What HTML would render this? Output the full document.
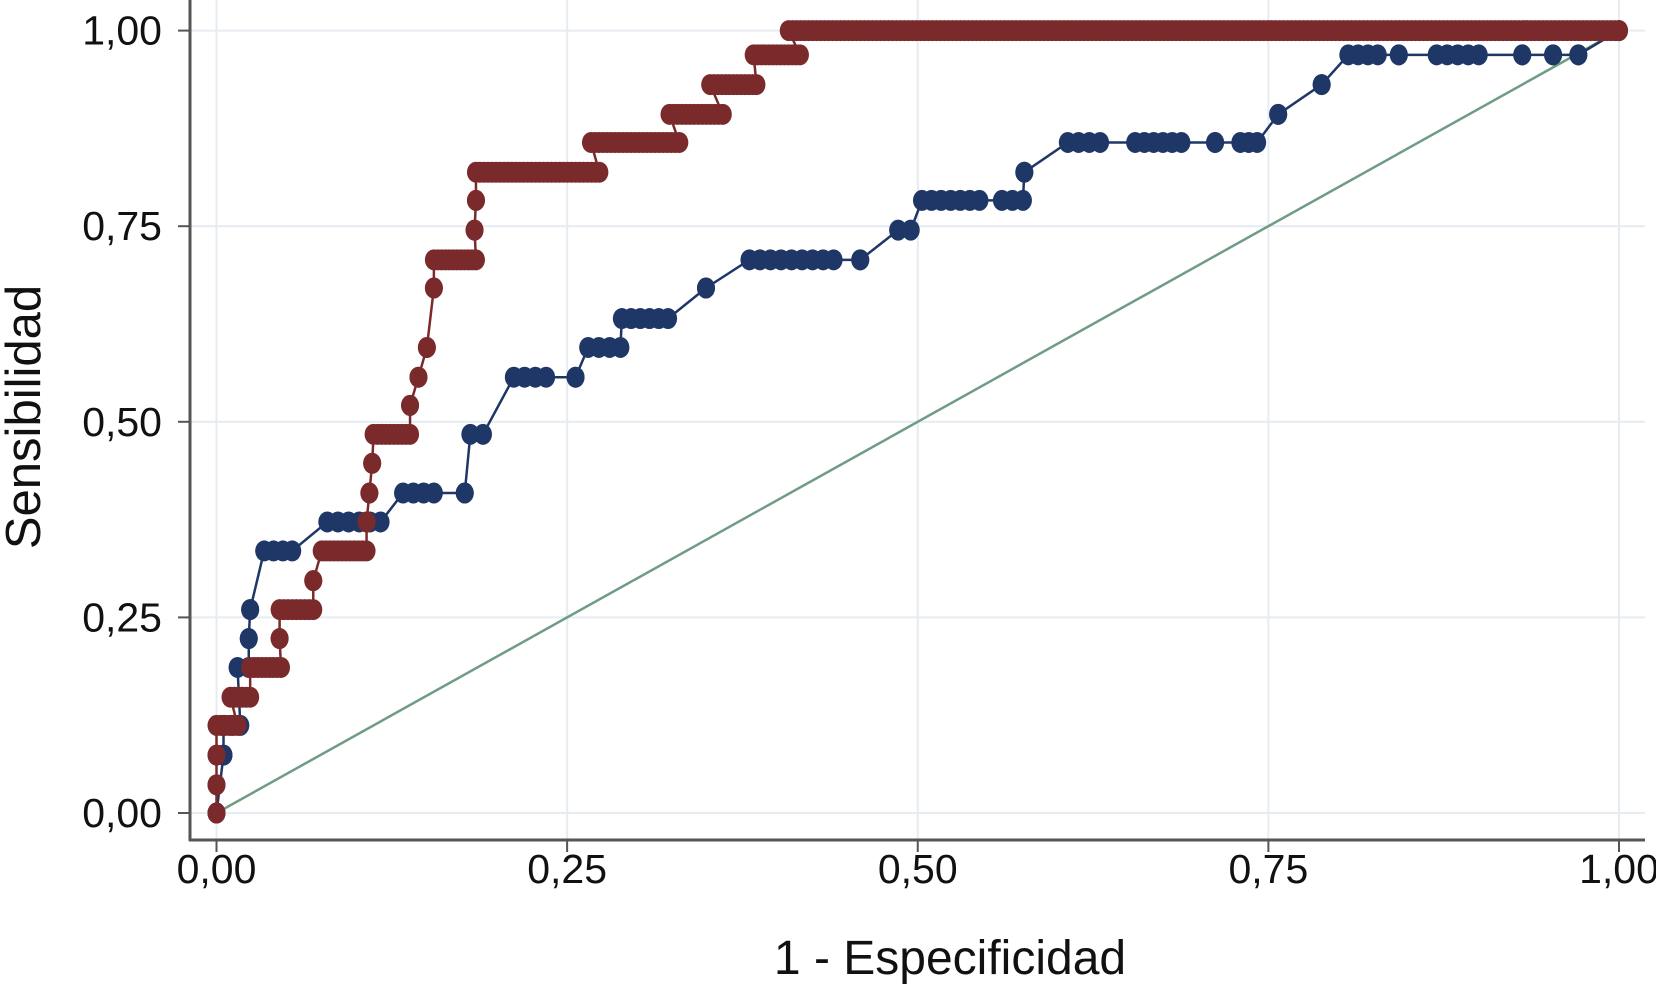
<!DOCTYPE html>
<html><head><meta charset="utf-8"><style>
html,body{margin:0;padding:0;background:#fff;}
svg{display:block;font-family:"Liberation Sans",sans-serif;}
</style></head><body>
<svg id="chart" width="1656" height="985" viewBox="0 0 1656 985" xmlns="http://www.w3.org/2000/svg">
<g id="grid"></g>
<g id="axes"></g>
<g id="series"></g>
<text x="950" y="974" font-size="48" text-anchor="middle" fill="#111">1 - Especificidad</text>
<text transform="translate(40,417) rotate(-90)" font-size="49" text-anchor="middle" fill="#111">Sensibilidad</text>
</svg>
<script>
const xTicks=[0,0.25,0.5,0.75,1];
const xTickLabels=["0,00","0,25","0,50","0,75","1,00"];
const yTicks=[0,0.25,0.5,0.75,1];
const yTickLabels=["0,00","0,25","0,50","0,75","1,00"];
// Red series: horizontal runs (x start, x end, y)
const redX0=[0,0,0,0,0.01,0.024,0.045,0.045,0.069,0.075,0.107,0.109,0.111,0.112,0.138,0.144,0.15,0.155,0.155,0.184,0.185,0.185,0.267,0.323,0.352,0.383,0.408];
const redX1=[0,0,0,0.015,0.024,0.046,0.045,0.069,0.069,0.107,0.107,0.109,0.111,0.138,0.138,0.144,0.15,0.155,0.185,0.184,0.185,0.273,0.33,0.361,0.385,0.416,1];
const redY=[0,0.036,0.074,0.112,0.148,0.186,0.223,0.26,0.297,0.335,0.372,0.409,0.447,0.484,0.521,0.557,0.595,0.671,0.707,0.745,0.783,0.819,0.857,0.893,0.931,0.969,1];
// Blue series
const blueX0=[0,0.005,0.005,0.015,0.023,0.024,0.034,0.079,0.133,0.177,0.181,0.212,0.256,0.265,0.289,0.349,0.38,0.459,0.486,0.503,0.56,0.576,0.607,0.655,0.712,0.73,0.757,0.788,0.807,0.843,0.87,0.931,0.953,0.971,1];
const blueX1=[0,0.005,0.017,0.023,0.023,0.024,0.054,0.117,0.155,0.177,0.19,0.235,0.256,0.288,0.322,0.349,0.44,0.459,0.495,0.544,0.575,0.576,0.63,0.688,0.712,0.742,0.757,0.788,0.828,0.843,0.9,0.931,0.953,0.971,1];
const blueY=[0,0.074,0.112,0.186,0.223,0.26,0.335,0.372,0.409,0.409,0.484,0.557,0.557,0.595,0.632,0.671,0.707,0.707,0.745,0.783,0.783,0.819,0.857,0.857,0.857,0.857,0.893,0.931,0.969,0.969,0.969,0.969,0.969,0.969,1];

const NS="http://www.w3.org/2000/svg";
const X0=216.5,X1=1619,Y0=813,Y1=30.6;
const sx=v=>X0+(X1-X0)*v;
const sy=v=>Y0-(Y0-Y1)*v;
function mk(tag,attrs,parent){const e=document.createElementNS(NS,tag);for(const k in attrs)e.setAttribute(k,attrs[k]);parent.appendChild(e);return e;}
const grid=document.getElementById('grid'),axes=document.getElementById('axes'),series=document.getElementById('series');
xTicks.forEach((t,i)=>{
  const l=mk('line',{x1:sx(t),x2:sx(t),y1:0,y2:840,stroke:'#e6ecf2','stroke-width':2},grid);
  
  
  const tk=mk('line',{x1:sx(t),x2:sx(t),y1:840,y2:852,stroke:'#555','stroke-width':2},axes);
  
  
  const tx=mk('text',{x:sx(t),y:883,'font-size':41,'text-anchor':'middle',fill:'#111'},axes);
  tx.textContent=xTickLabels[i];
  
  
});
yTicks.forEach((t,i)=>{
  const l=mk('line',{x1:190,x2:1645,y1:sy(t),y2:sy(t),stroke:'#e6ecf2','stroke-width':2},grid);
  
  
  const tk=mk('line',{x1:178,x2:190,y1:sy(t),y2:sy(t),stroke:'#555','stroke-width':2},axes);
  
  
  const tx=mk('text',{x:162,y:sy(t)+14,'font-size':41,'text-anchor':'end',fill:'#111'},axes);
  tx.textContent=yTickLabels[i];
  
  
});
const ya=mk('line',{x1:190,x2:190,y1:0,y2:841,stroke:'#555','stroke-width':3},axes);


const xa=mk('line',{x1:189,x2:1645,y1:840,y2:840,stroke:'#555','stroke-width':3},axes);



const ref=mk('line',{x1:sx(0),y1:sy(0),x2:sx(1),y2:sy(1),stroke:'#6f9c84','stroke-width':2.5},series);



function drawSeries(xs0,xs1,ys,color,name,step){
  const g=mk('g',{},series);
  
  
  const pts=[];
  for(let i=0;i<ys.length;i++){pts.push(sx(xs0[i])+','+sy(ys[i]));pts.push(sx(xs1[i])+','+sy(ys[i]));}
  const pl=mk('polyline',{points:pts.join(' '),fill:'none',stroke:color,'stroke-width':2.5},g);
  
  
  for(let i=0;i<ys.length;i++){
    const a=sx(xs0[i]),b=sx(xs1[i]),n=Math.max(1,Math.round((b-a)/step));
    for(let k=0;k<=n;k++){
      const c=mk('ellipse',{cx:a+(b-a)*k/n,cy:sy(ys[i]),rx:9,ry:10.5,fill:color},g);
      
      
    }
  }
}
drawSeries(blueX0,blueX1,blueY,'#1f3766','blue-roc-curve',10);
drawSeries(redX0,redX1,redY,'#7b2a2c','red-roc-curve',4);
</script>
</body></html>
